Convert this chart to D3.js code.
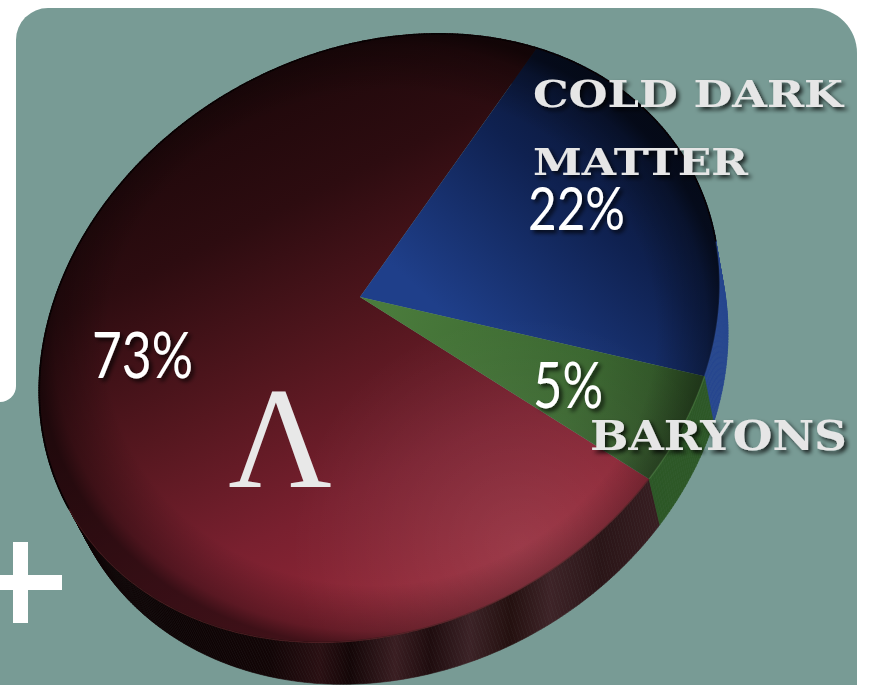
<!DOCTYPE html>
<html><head><meta charset="utf-8">
<script src="https://cdn.jsdelivr.net/npm/d3@7"></script>
<style>html,body{margin:0;padding:0;background:#fff;} svg{display:block}</style>
</head><body>
<svg id="chart" width="875" height="685"></svg>
<script>
// Composition of the universe
const categories = ["Λ", "Cold dark matter", "Baryons"];
const shares = [73, 22, 5];
const shareLabels = ["73%", "22%", "5%"];
const nameLines = [["Λ"], ["COLD DARK", "MATTER"], ["BARYONS"]];

// Perspective view of the disc: screen = apex + M·q / (1 + C·q), q = unit direction on the disc
const apex = [360, 297];
const M = [[335.35, 1.59], [-55.91, 292.37]];
const C = [-0.0557, -0.1477];
const firstEdge = -0.9547;           // direction of the Λ / CDM boundary on the disc
const vanish = [1100, 2400], depth = 0.021;   // side of the cylinder

function topPt(th) {
  const q = [Math.cos(th), Math.sin(th)];
  const w = 1 + C[0] * q[0] + C[1] * q[1];
  return { x: apex[0] + (M[0][0] * q[0] + M[0][1] * q[1]) / w,
           y: apex[1] + (M[1][0] * q[0] + M[1][1] * q[1]) / w, w };
}
function botPt(th) {
  const t = topPt(th), k = depth / (t.w + depth);
  return { x: t.x + k * (vanish[0] - t.x), y: t.y + k * (vanish[1] - t.y) };
}

const svg = d3.select("#chart");
const defs = svg.append("defs");

function linGrad(id, x1, y1, x2, y2, stops) {
  const g = defs.append("linearGradient").attr("id", id).attr("gradientUnits", "userSpaceOnUse")
    .attr("x1", x1).attr("y1", y1).attr("x2", x2).attr("y2", y2);
  stops.forEach(s => g.append("stop").attr("offset", s[0]).attr("stop-color", s[1]).attr("stop-opacity", s[2] == null ? 1 : s[2]));
}
linGrad("gL", 200, 80, 470, 625, [[0, "#1b0709"], [0.25, "#2d0c10"], [0.5, "#55171f"], [0.72, "#79202f"], [0.9, "#8f2636"], [1, "#982b3b"]]);
linGrad("gC", 640, 70, 430, 300, [[0, "#08112a"], [0.45, "#0f2150"], [1, "#1f3f8a"]]);
linGrad("gB", 390, 300, 710, 420, [[0, "#4a7b3c"], [0.6, "#3a662f"], [1, "#2a4822"]]);
linGrad("bandL", 170, 0, 670, 0, [[0, "#0d0304"], [0.2, "#120506"], [0.3, "#2a1013"], [0.36, "#140607"], [0.45, "#3a1e22"], [0.52, "#1f0c0e"], [0.6, "#3c2327"], [0.68, "#24100f"], [0.76, "#3e2428"], [0.86, "#2a1517"], [1, "#3a2024"]]);

const vig = defs.append("radialGradient").attr("id", "vig").attr("gradientUnits", "userSpaceOnUse")
  .attr("cx", 0).attr("cy", 0).attr("r", 1).attr("gradientTransform", "translate(381,338) rotate(-8) scale(344,308)");
[[0, 0], [0.8, 0], [0.95, 0.3], [1, 0.55]].forEach(s => vig.append("stop").attr("offset", s[0]).attr("stop-color", "#000").attr("stop-opacity", s[1]));
const glow = defs.append("radialGradient").attr("id", "glow").attr("gradientUnits", "userSpaceOnUse")
  .attr("cx", 520).attr("cy", 545).attr("r", 230);
[[0, 0.09], [1, 0]].forEach(s => glow.append("stop").attr("offset", s[0]).attr("stop-color", "#fff").attr("stop-opacity", s[1]));

const shadow = defs.append("filter").attr("id", "shadow").attr("x", "-10%").attr("y", "-20%").attr("width", "130%").attr("height", "150%");
shadow.append("feDropShadow").attr("dx", 3).attr("dy", 3).attr("stdDeviation", 2).attr("flood-color", "#000").attr("flood-opacity", 0.75);

// panel behind the chart
svg.append("path").attr("d", "M16,685 L16,40 A32,32 0 0 1 48,8 L812,8 A45,45 0 0 1 857,53 L857,685 Z").attr("fill", "#789b95");
svg.append("rect").attr("x", 0).attr("y", 370).attr("width", 20).attr("height", 315).attr("fill", "#789b95");
svg.append("path").attr("d", "M0,0 H16 V386 A16,16 0 0 1 0,402 Z").attr("fill", "#fff");
svg.append("rect").attr("x", 13).attr("y", 542).attr("width", 15).attr("height", 81).attr("fill", "#fff");
svg.append("rect").attr("x", -21).attr("y", 575).attr("width", 83).attr("height", 15).attr("fill", "#fff");

const pie = d3.pie().sort(null).value(d => d);
const startA = firstEdge + Math.PI / 2 - 2 * Math.PI * shares[0] / 100;
const arcs = pie.startAngle(startA).endAngle(startA + 2 * Math.PI)(shares);
const toTh = a => a - Math.PI / 2;
const line = d3.line().x(d => d.x).y(d => d.y);
const steps = a => Math.max(8, Math.ceil((a.endAngle - a.startAngle) / (2 * Math.PI) * 720));
const angleAt = (a, k, n) => toTh(a.startAngle + (a.endAngle - a.startAngle) * k / n);

const bandFill = ["url(#bandL)", "#27468f", "#2d5827"];
const topFill = ["url(#gL)", "url(#gC)", "url(#gB)"];
const rimStroke = ["#5e2328", "#2c4c96", "#4d7f42"];
const gPie = svg.append("g");

// side of the disc
const frontRim = [];
arcs.forEach((a, i) => {
  const n = steps(a);
  for (let k = 0; k < n; k++) {
    const th0 = angleAt(a, k, n), th1 = angleAt(a, k + 1, n);
    const q = [topPt(th0), topPt(th1), botPt(th1), botPt(th0)];
    gPie.append("path").attr("d", line(q) + "Z").attr("fill", bandFill[i]).attr("stroke", bandFill[i]).attr("stroke-width", 0.6);
    const cross = (q[1].x - q[0].x) * (q[3].y - q[0].y) - (q[1].y - q[0].y) * (q[3].x - q[0].x);
    if (cross > 0) frontRim.push([q[0], q[1]]);
  }
});

// top faces
arcs.forEach((a, i) => {
  const n = steps(a), rim = [];
  for (let k = 0; k <= n; k++) rim.push(topPt(angleAt(a, k, n)));
  gPie.append("path").attr("d", line([{ x: apex[0], y: apex[1] }].concat(rim)) + "Z").attr("fill", topFill[i]);
  gPie.append("path").attr("d", line(rim)).attr("fill", "none").attr("stroke", rimStroke[i]).attr("stroke-width", 1.4).attr("stroke-opacity", 0.7);
});
// shading over the whole top face
const outline = d3.range(0, 721).map(k => topPt(k / 720 * 2 * Math.PI));
gPie.append("path").attr("d", line(outline) + "Z").attr("fill", "url(#glow)");
gPie.append("path").attr("d", line(outline) + "Z").attr("fill", "url(#vig)");
frontRim.forEach(s => gPie.append("path").attr("d", line(s)).attr("stroke", "#070203").attr("stroke-width", 1.6).attr("stroke-linecap", "round"));

// labels
const pctPos = [[92, 378, 101, 64], [528, 230, 97, 60], [533, 408, 70, 64]];
svg.selectAll("text.pct").data(shareLabels).join("text").attr("class", "pct")
  .attr("x", (d, i) => pctPos[i][0]).attr("y", (d, i) => pctPos[i][1])
  .attr("textLength", (d, i) => pctPos[i][2]).attr("lengthAdjust", "spacingAndGlyphs")
  .attr("font-family", "Lato, 'Open Sans', sans-serif").attr("font-size", (d, i) => pctPos[i][3])
  .attr("fill", "#fff").attr("filter", "url(#shadow)").text(d => d);

const namePos = [[[280, 487, 0, 143]], [[533, 107, 310, 37], [533, 175, 215, 38]], [[590, 450, 257, 41]]];
nameLines.forEach((lines, i) => lines.forEach((t, j) => {
  const p = namePos[i][j];
  const el = svg.append("text").attr("x", p[0]).attr("y", p[1]).attr("font-size", p[3]).text(t);
  if (i === 0) {
    el.attr("text-anchor", "middle").attr("font-family", "'Liberation Serif', 'DejaVu Serif', serif").attr("fill", "#e8e8e8");
  } else {
    el.attr("font-family", "'DejaVu Serif', serif").attr("font-weight", "bold").attr("fill", "#e6e6e6")
      .attr("textLength", p[2]).attr("lengthAdjust", "spacingAndGlyphs").attr("filter", "url(#shadow)");
  }
}));
</script>
</body></html>
